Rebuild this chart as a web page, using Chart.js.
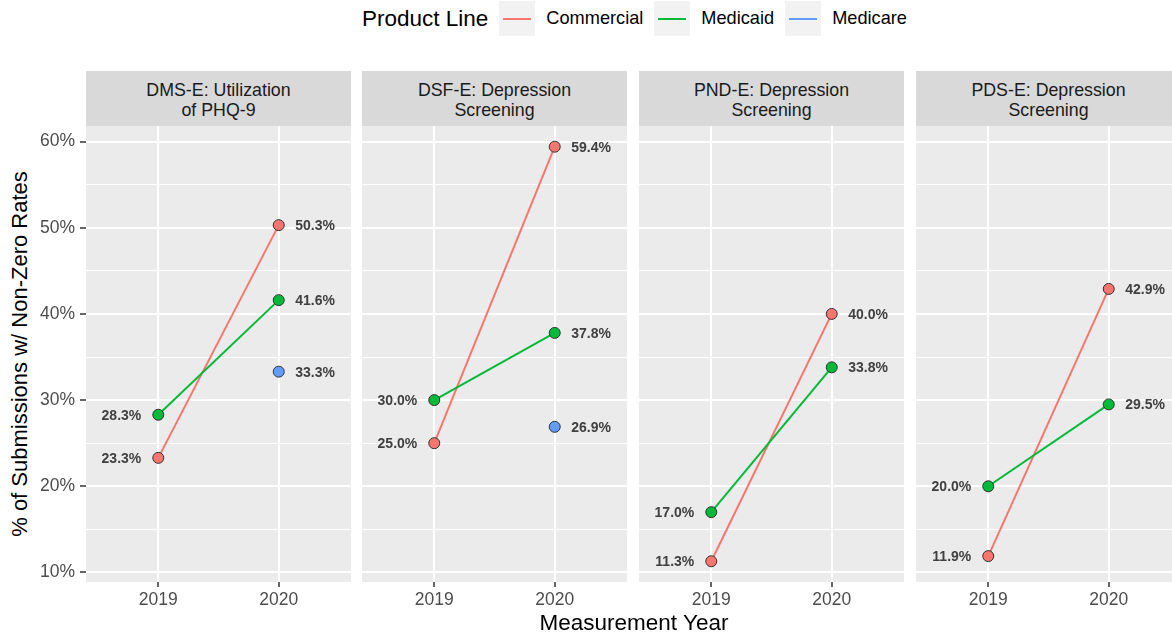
<!DOCTYPE html>
<html>
<head>
<meta charset="utf-8">
<script src="https://cdn.jsdelivr.net/npm/chart.js@4"></script>
<style>
html,body{margin:0;padding:0;background:#fff;width:1172px;height:639px;overflow:hidden;font-family:"Liberation Sans",Arial,sans-serif;}
#root{position:relative;width:1172px;height:639px;overflow:hidden;}
.strip{position:absolute;top:71px;height:55px;box-sizing:border-box;padding-top:2px;background:#d9d9d9;color:#1a1a1a;font-size:17.8px;line-height:20px;display:flex;flex-direction:column;justify-content:center;align-items:center;text-align:center;white-space:nowrap;}
canvas{position:absolute;}
#legend{position:absolute;left:362px;top:0;height:37px;display:flex;align-items:center;white-space:nowrap;}
#legend .title{font-size:22.5px;color:#000;margin-right:11px;}
#legend .key{width:36px;height:35px;background:#f2f2f2;position:relative;margin-right:11px;}
#legend .key span{position:absolute;left:4px;right:4px;top:16.5px;height:2px;}
#legend .lab{font-size:18.2px;color:#000;margin-right:11px;}
#ytitle{position:absolute;left:20px;top:354px;transform:translate(-50%,-50%) rotate(-90deg);font-size:22px;color:#000;white-space:nowrap;}
#xtitle{position:absolute;left:634px;top:623px;transform:translate(-50%,-50%);font-size:22.5px;color:#000;white-space:nowrap;}
</style>
</head>
<body>
<div id="root">
  <div id="legend"></div>
  <div id="ytitle">% of Submissions w/ Non-Zero Rates</div>
  <div id="xtitle">Measurement Year</div>
</div>
<script>
// ---- data ----
const years = [2019, 2020];
const panelTitles = [
  ["DMS-E: Utilization", "of PHQ-9"],
  ["DSF-E: Depression", "Screening"],
  ["PND-E: Depression", "Screening"],
  ["PDS-E: Depression", "Screening"]
];
const seriesNames = ["Commercial", "Medicaid", "Medicare"];
const commercial = [[23.3, 50.3], [25.0, 59.4], [11.3, 40.0], [11.9, 42.9]];
const medicaid   = [[28.3, 41.6], [30.0, 37.8], [17.0, 33.8], [20.0, 29.5]];
const medicare   = [[null, 33.3], [null, 26.9], [null, null], [null, null]];
const yTicks = [10, 20, 30, 40, 50, 60];
const legendTitle = "Product Line";

// ---- styling ----
const seriesData = [commercial, medicaid, medicare];
const colors = ["#F8766D", "#00BA38", "#619CFF"];
const FONT = '"Liberation Sans", Arial, sans-serif';
const panelLeft = [86, 362, 639, 916];
const PW = 265;
const PLOT_TOP = 126;
const PLOT_H = 456;
const XAXIS_H = 30;

// y range with ggplot-style 5% expansion
const allVals = seriesData.flat(2).filter(v => v !== null);
const vmin = Math.min(...allVals), vmax = Math.max(...allVals);
const pad = (vmax - vmin) * 0.05;
const yMin = vmin - pad, yMax = vmax + pad;
const gridVals = [];
for (let k = 0; k < yTicks.length; k++) {
  gridVals.push(yTicks[k]);
  if (k < yTicks.length - 1) gridVals.push((yTicks[k] + yTicks[k + 1]) / 2);
}
const isMajor = v => yTicks.includes(v);

// legend
const legend = document.getElementById('legend');
legend.innerHTML = '<div class="title">' + legendTitle + '</div>' +
  seriesNames.map((n, i) => '<div class="key"><span style="background:' + colors[i] + '"></span></div><div class="lab">' + n + '</div>').join('');

const root = document.getElementById('root');

const bgPlugin = {
  id: 'panelBg',
  beforeDraw(chart) {
    const a = chart.chartArea, c = chart.ctx;
    c.save();
    c.fillStyle = '#ebebeb';
    c.fillRect(a.left, a.top, a.right - a.left, a.bottom - a.top);
    c.restore();
  }
};

const labelPlugin = {
  id: 'pointLabels',
  afterDatasetsDraw(chart) {
    const c = chart.ctx;
    c.save();
    c.font = 'bold 14px ' + FONT;
    c.fillStyle = '#404040';
    c.textBaseline = 'middle';
    chart.data.datasets.forEach((ds, di) => {
      const meta = chart.getDatasetMeta(di);
      meta.data.forEach((pt, k) => {
        const d = ds.data[k];
        if (d.y === null) return;
        const txt = d.y.toFixed(1) + '%';
        if (d.x === years[0]) {
          c.textAlign = 'right';
          c.fillText(txt, pt.x - 17, pt.y + 1);
        } else {
          c.textAlign = 'left';
          c.fillText(txt, pt.x + 16.5, pt.y + 1);
        }
      });
    });
    c.restore();
  }
};

panelTitles.forEach((lines, i) => {
  const strip = document.createElement('div');
  strip.className = 'strip';
  strip.style.left = panelLeft[i] + 'px';
  strip.style.width = PW + 'px';
  strip.innerHTML = lines.map(l => '<div>' + l + '</div>').join('');
  root.appendChild(strip);

  const isFirst = i === 0;
  const axisW = isFirst ? 86 : 0;
  const cv = document.createElement('canvas');
  cv.width = axisW + PW;
  cv.height = PLOT_H + XAXIS_H;
  cv.style.left = (panelLeft[i] - axisW) + 'px';
  cv.style.top = PLOT_TOP + 'px';
  cv.style.width = cv.width + 'px';
  cv.style.height = cv.height + 'px';
  root.insertBefore(cv, document.getElementById('xtitle'));

  const datasets = seriesNames.map((name, s) => ({
    label: name,
    data: years.map((yr, k) => ({ x: yr, y: seriesData[s][i][k] })).filter(p => p.y !== null),
    borderColor: colors[s],
    backgroundColor: colors[s],
    pointBackgroundColor: colors[s],
    pointBorderColor: '#333333',
    pointBorderWidth: 1,
    pointRadius: 5.5,
    borderWidth: 2,
    tension: 0,
    order: 3 - s
  }));

  new Chart(cv, {
    type: 'line',
    data: { datasets },
    plugins: [bgPlugin, labelPlugin],
    options: {
      responsive: false,
      animation: false,
      events: [],
      layout: { padding: 0, autoPadding: false },
      plugins: { legend: { display: false }, tooltip: { enabled: false } },
      scales: {
        x: {
          type: 'linear',
          min: 2018.4,
          max: 2020.6,
          afterBuildTicks: s => { s.ticks = years.map(v => ({ value: v })); },
          afterFit: s => { s.height = XAXIS_H; s.paddingLeft = 0; s.paddingRight = 0; },
          border: { display: false },
          grid: { color: '#ffffff', lineWidth: 2, tickColor: '#333333', tickLength: 5, tickWidth: 1.5 },
          ticks: { font: { family: FONT, size: 17.5 }, color: '#4d4d4d', padding: 3, maxRotation: 0, autoSkip: false, callback: v => String(v) }
        },
        y: {
          type: 'linear',
          min: yMin,
          max: yMax,
          afterBuildTicks: s => { s.ticks = gridVals.map(v => ({ value: v })); },
          afterFit: s => { s.width = axisW; s.paddingTop = 0; s.paddingBottom = 0; },
          border: { display: false },
          grid: {
            color: '#ffffff',
            lineWidth: ctx => (ctx.tick && isMajor(ctx.tick.value)) ? 2 : 1,
            tickColor: ctx => (ctx.tick && isMajor(ctx.tick.value)) ? '#333333' : 'rgba(0,0,0,0)',
            tickLength: 6,
            tickWidth: 1.5,
            drawTicks: isFirst
          },
          ticks: {
            display: isFirst,
            autoSkip: false,
            padding: 5,
            font: { family: FONT, size: 17.5 },
            color: '#4d4d4d',
            callback: v => isMajor(v) ? v + '%' : ''
          }
        }
      }
    }
  });
});
</script>
</body>
</html>
